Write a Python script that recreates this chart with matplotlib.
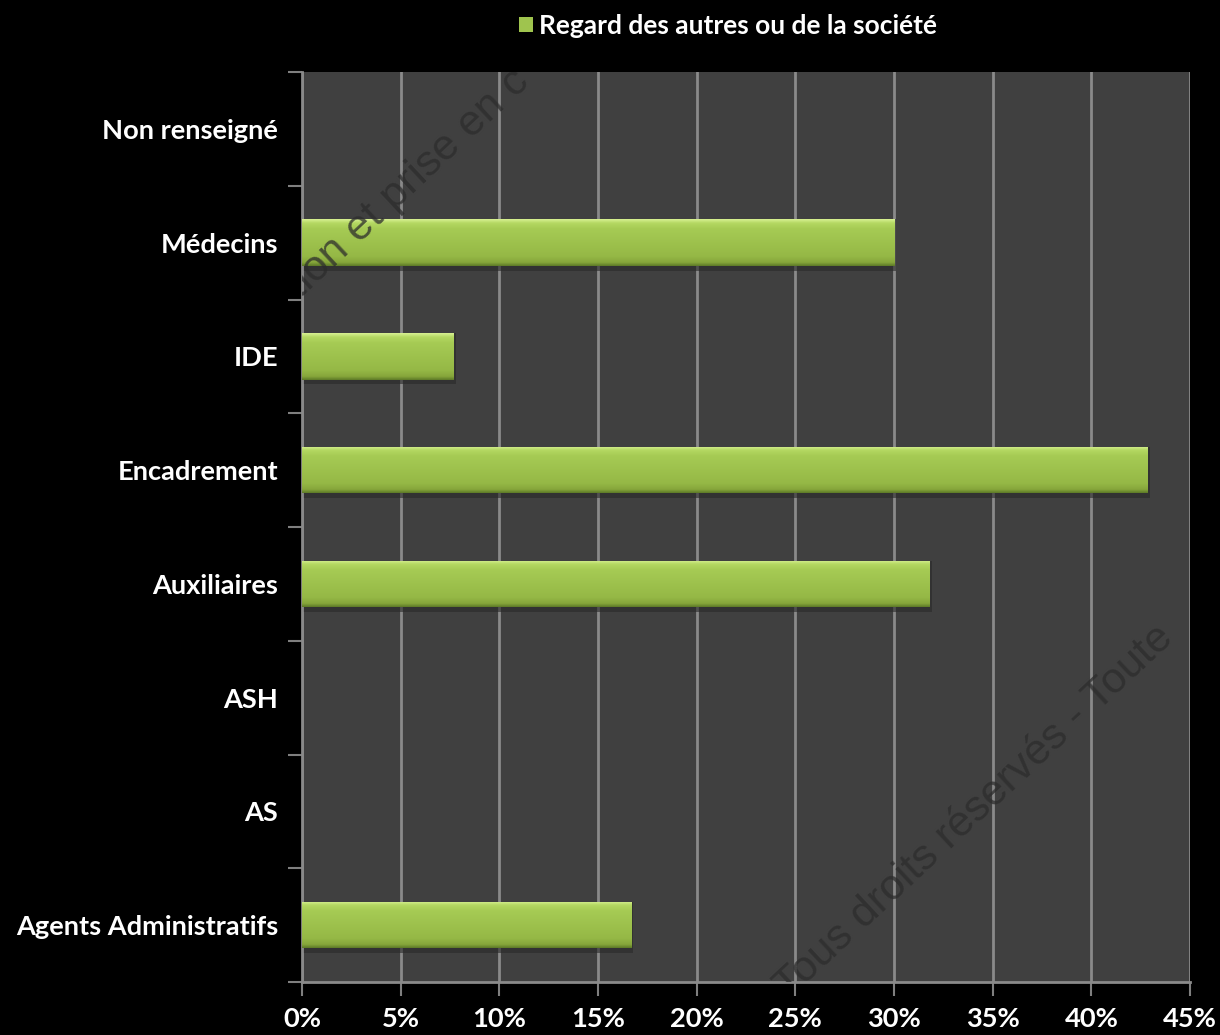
import numpy as np
import matplotlib
matplotlib.use("Agg")
import matplotlib.pyplot as plt
from matplotlib.ticker import FixedLocator, PercentFormatter

categories = ["Non renseigné", "Médecins", "IDE", "Encadrement",
              "Auxiliaires", "ASH", "AS", "Agents Administratifs"]
values = [0, 30.0, 7.7, 42.86, 31.8, 0, 0, 16.67]
series_name = "Regard des autres ou de la société"
x_ticks = [0, 5, 10, 15, 20, 25, 30, 35, 40, 45]

plt.rcParams['font.family'] = ['Lato', 'DejaVu Sans']

fig = plt.figure(figsize=(12.2, 10.35), dpi=100, facecolor='black')
ax = fig.add_axes([0.2475, 0.0512, 0.728, 0.8792])
ax.set_facecolor('#404040')

y = np.arange(len(categories))
bars = ax.barh(y, values, height=0.41, color='#9fc44e', edgecolor='none', zorder=3,
               label=series_name)

# bevel-ish gradient on every bar
cmap = matplotlib.colors.LinearSegmentedColormap.from_list(
    'bev', [(0.0, '#d6f090'), (0.08, '#b4d862'), (0.2, '#a6cb54'),
            (0.8, '#95b846'), (0.93, '#86a63b'), (1.0, '#5f7c28')])
for b in bars:
    w = b.get_width()
    if w <= 0:
        continue
    yb, h = b.get_y(), b.get_height()
    # soft shadow
    ax.barh(yb + h / 2 + 0.02, w + 0.12, height=h + 0.04, left=0,
            color='#2a2a2a', alpha=0.6, zorder=2.5)
    im = ax.imshow(np.linspace(0, 1, 64).reshape(-1, 1), cmap=cmap, aspect='auto',
                   extent=[0, w, yb + h, yb], zorder=4, interpolation='bilinear')
    im.set_clip_path(b)

ax.set_xlim(0, 45)
ax.set_ylim(len(categories) - 0.5, -0.5)

ax.set_xticks(x_ticks)
ax.xaxis.set_major_formatter(PercentFormatter(decimals=0))
ax.set_yticks(y)
ax.set_yticklabels(categories)
ax.yaxis.set_minor_locator(FixedLocator(np.arange(-0.5, len(categories), 1)))

ax.tick_params(axis='y', which='major', length=0, pad=17, labelsize=19.6,
               labelcolor='white')
ax.tick_params(axis='y', which='minor', length=10, width=1.5, color='#7f7f7f',
               direction='out')
ax.tick_params(axis='x', which='major', length=10, width=1.5, color='#7f7f7f',
               direction='out', pad=8, labelsize=19.6, labelcolor='white')
for lab in ax.get_xticklabels() + ax.get_yticklabels():
    lab.set_fontweight('bold')

ax.grid(axis='x', color='#8a8a8a', linewidth=2, zorder=1)
ax.set_axisbelow(True)
for s in ['top', 'right']:
    ax.spines[s].set_visible(False)
for s in ['left', 'bottom']:
    ax.spines[s].set_color('#8a8a8a')
    ax.spines[s].set_linewidth(2)

# faint watermark, drawn over the bars
wm = dict(rotation=43, rotation_mode='anchor', ha='left', va='baseline',
          fontsize=31, color='#2c2c2c', alpha=0.75, family='Liberation Sans',
          clip_on=True, zorder=5)
ax.text(-0.1, 1.50, "tion et prise en c", **wm)
ax.text(24.7, 7.66, "Tous droits réservés - Toute", **wm)

leg = ax.legend(loc='center', bbox_to_anchor=(0.597, 0.975), bbox_transform=fig.transFigure,
                frameon=False, handlelength=0.5, handleheight=0.5, handletextpad=0.25,
                prop={'weight': 'bold', 'size': 19})
for t in leg.get_texts():
    t.set_color('white')

fig.savefig('out.png', dpi=100, facecolor='black')
